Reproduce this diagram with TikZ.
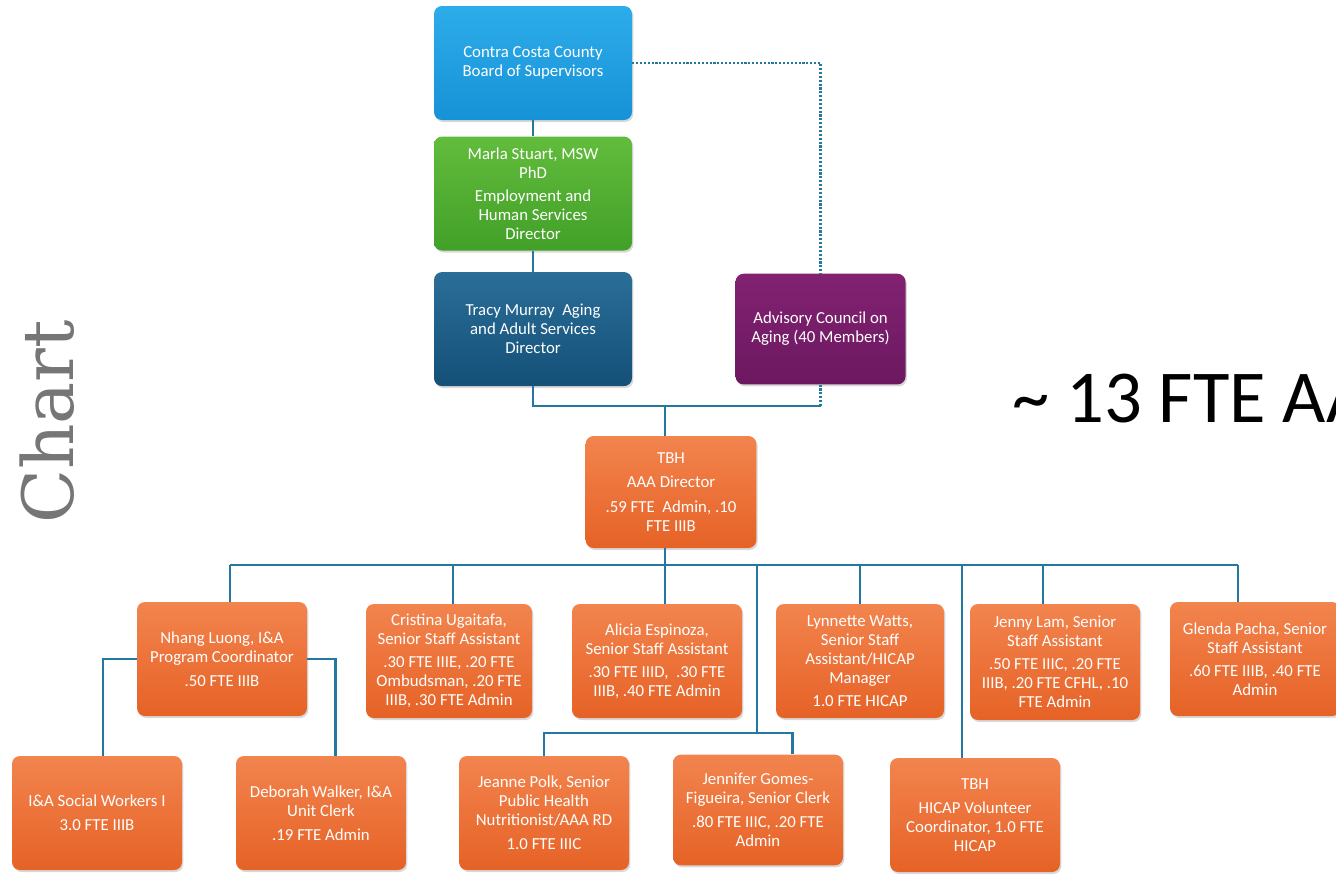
\documentclass[tikz,border=0pt]{standalone}
\usepackage{fontspec}
\setmainfont{Carlito}
\newfontfamily\chartfont{DejaVu Serif}
\usepackage{xcolor}
\definecolor{BoardTop}{RGB}{45,172,234}
\definecolor{BoardBot}{RGB}{22,146,214}
\definecolor{MarlaTop}{RGB}{98,188,60}
\definecolor{MarlaBot}{RGB}{66,160,40}
\definecolor{TracyTop}{RGB}{42,110,152}
\definecolor{TracyBot}{RGB}{20,80,120}
\definecolor{CouncilTop}{RGB}{130,34,114}
\definecolor{CouncilBot}{RGB}{108,24,96}
\definecolor{StaffTop}{RGB}{242,132,78}
\definecolor{StaffBot}{RGB}{230,98,38}
\definecolor{LinkBlue}{RGB}{36,120,160}
\definecolor{ChartGrey}{RGB}{118,118,118}
\usepackage{tikz}
\usetikzlibrary{positioning,shadows}

\begin{document}
\begin{tikzpicture}[x=0.75pt,y=-0.75pt,
                    link/.style={draw=LinkBlue,line width=1.9pt},
                    dotlink/.style={draw=LinkBlue,line width=1.9pt,dash pattern=on 1.6pt off 1.3pt}]
  \tikzstyle{post}=[rectangle,rounded corners=6pt,align=center,text=white,
                    minimum width=127.5pt,minimum height=85.5pt,inner sep=2pt,
                    font=\fontsize{12.6}{14.2}\selectfont,
                    drop shadow={shadow xshift=1pt,shadow yshift=-1.5pt,opacity=0.3}]
  \tikzstyle{topbox}=[post,minimum width=148.5pt]
  \tikzstyle{staff}=[post,top color=StaffTop,bottom color=StaffBot]

  \useasboundingbox (0,0) rectangle (1336,875);
  \clip (0,0) rectangle (1336,875);

  \node[topbox,top color=BoardTop,bottom color=BoardBot] (board) at (533,63) {Contra Costa County\\Board of Supervisors};
  \node[topbox,top color=MarlaTop,bottom color=MarlaBot] (marla) [below=12pt of board] {Marla Stuart, MSW\\PhD\\[3pt]Employment and\\Human Services\\Director};
  \node[topbox,top color=TracyTop,bottom color=TracyBot] (tracy) [below=15.75pt of marla] {Tracy Murray~ Aging\\and Adult Services\\Director};
  \node[post,top color=CouncilTop,bottom color=CouncilBot,minimum height=83pt] (council) [right=77.25pt of tracy] {Advisory Council on\\Aging (40 Members)};

  \node[staff,minimum width=128pt,minimum height=84pt] (aaadir) at (671,492) {TBH\\[4pt]AAA Director\\[4pt].59 FTE~ Admin, .10\\FTE IIIB};

  \node[staff] (nhang)    at (222,659)  {Nhang Luong, I\&A\\Program Coordinator\\[4pt].50 FTE IIIB};
  \node[staff,minimum width=124.5pt] (cristina) at (449,661) {Cristina Ugaitafa,\\Senior Staff Assistant\\[3pt].30 FTE IIIE, .20 FTE\\Ombudsman, .20 FTE\\IIIB, .30 FTE Admin};
  \node[staff] (alicia)   at (657,661)  {Alicia Espinoza,\\Senior Staff Assistant\\[3pt].30 FTE IIID,~ .30 FTE\\IIIB, .40 FTE Admin};
  \node[staff,minimum width=126pt] (lynnette) at (860,661) {Lynnette Watts,\\Senior Staff\\Assistant/HICAP\\Manager\\[3pt]1.0 FTE HICAP};
  \node[staff,minimum height=87pt] (jenny) at (1055,662) {Jenny Lam, Senior\\Staff Assistant\\[3pt].50 FTE IIIC, .20 FTE\\IIIB, .20 FTE CFHL, .10\\FTE Admin};
  \node[staff] (glenda)   at (1255,659) {Glenda Pacha, Senior\\Staff Assistant\\[3pt].60 FTE IIIB, .40 FTE\\Admin};

  \node[staff] (socialw)  at (97,813)   {I\&A Social Workers I\\[4pt]3.0 FTE IIIB};
  \node[staff] (deborah)  at (321,813)  {Deborah Walker, I\&A\\Unit Clerk\\[4pt].19 FTE Admin};
  \node[staff] (jeanne)   at (544,813)  {Jeanne Polk, Senior\\Public Health\\Nutritionist/AAA RD\\[4pt]1.0 FTE IIIC};
  \node[staff,minimum height=83pt] (jennifer) at (758,810) {Jennifer Gomes-\\Figueira, Senior Clerk\\[4pt].80 FTE IIIC, .20 FTE\\Admin};
  \node[staff] (volunteer) at (975,815) {TBH\\[4pt]HICAP Volunteer\\Coordinator, 1.0 FTE\\HICAP};

  \node[rotate=90,text=ChartGrey,font=\chartfont\fontsize{53}{53}\selectfont] (chart) at (47,422) {Chart};
  \node[anchor=base west,inner sep=0pt,font=\fontsize{56}{56}\selectfont] (fte) at (1012,422) {\textasciitilde{} 13 FTE AA};

  \coordinate (hub) at (665,406);
  \coordinate (bus) at (665,565);
  \coordinate (subbus) at (757,733);
  \coordinate (hicapdrop) at (962,565);

  \path[link] (board) edge (marla)
              (marla) edge (tracy);
  \draw[dotlink] (board.east) -| (council.north);
  \draw[link] (tracy.south) |- (council.south |- hub);
  \draw[dotlink] (council.south |- hub) -- (council.south);
  \draw[link] (hub) -- (hub |- aaadir.north);
  \draw[link] (hub |- aaadir.south) -- (hub |- alicia.north);
  \draw[link] ([xshift=6pt]nhang.north |- bus) -- ([xshift=-12.75pt]glenda.north |- bus);
  \foreach \n/\dx in {nhang/6pt,cristina/3pt,lynnette/0pt,jenny/-9pt,glenda/-12.75pt}
    \draw[link] ([xshift=\dx]\n.north |- bus) -- ([xshift=\dx]\n.north);
  \draw[link] (subbus |- bus) -- (subbus);
  \draw[link] (jeanne.north) |- ([xshift=26pt]jennifer.north |- subbus) -- ([xshift=26pt]jennifer.north);
  \draw[link] (hicapdrop) -- (hicapdrop |- volunteer.north);
  \draw[link] (nhang.west) -| ([xshift=4.5pt]socialw.north);
  \draw[link] (nhang.east) -| ([xshift=11pt]deborah.north);
\end{tikzpicture}
\end{document}
